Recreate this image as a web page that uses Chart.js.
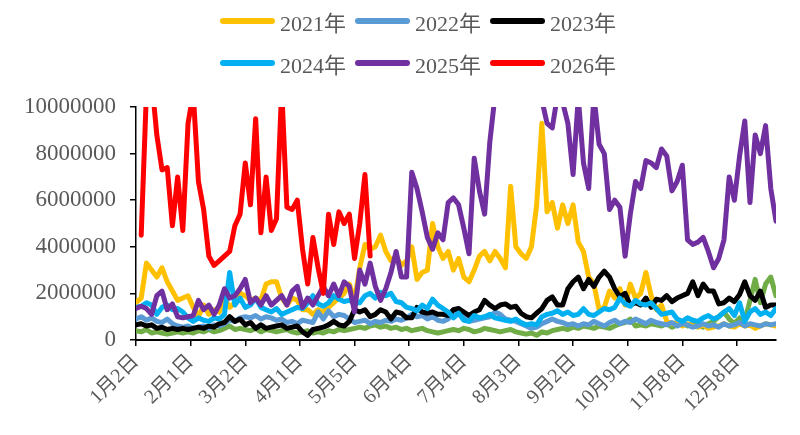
<!DOCTYPE html>
<html>
<head>
<meta charset="utf-8">
<script src="https://cdn.jsdelivr.net/npm/chart.js@4/dist/chart.umd.min.js"></script>
<style>
  html, body { margin: 0; padding: 0; background: #fff; }
  #wrap { position: relative; width: 800px; height: 435px; }
  #legend { position: absolute; left: 220px; top: 0px; width: 420px; display: flex; flex-wrap: wrap;
    font-family: 'Liberation Serif', 'Noto Sans CJK SC', serif; font-size: 22px; color: #595959; }
  .item { width: 135px; height: 42px; display: flex; align-items: center; }
  .sw { width: 55px; height: 6px; border-radius: 3px; margin-right: 5px; }
</style>
</head>
<body>
<div id="wrap">
  <canvas id="c" width="800" height="435"></canvas>
  <div id="legend"></div>
</div>
<script>
// 每个点 = 2 个交易日，单位：百万
const UNIT = 1e6;
const tickLabels = ['1月2日', '2月1日', '3月2日', '4月1日', '5月5日', '6月4日', '7月4日', '8月3日', '9月2日', '10月9日', '11月8日', '12月8日'];

const y2021 = [1.6, 1.8, 3.3, 3.0, 2.7, 3.1, 2.5, 2.1, 1.7, 1.8, 1.9, 1.4, 1.0, 1.5, 1.1, 1.3, 1.2, 1.8, 1.4, 1.6, 2.0,
  1.9, 1.7, 1.8, 1.7, 2.4, 2.5, 2.5, 1.8, 1.5, 1.8, 1.7, 1.3, 1.3, 1.1, 1.3, 1.2, 1.4, 1.6, 1.8, 2.0,
  2.4, 1.7, 3.1, 4.1, 3.9, 4.0, 4.5, 3.8, 3.4, 3.6, 3.2, 3.4, 4.0, 2.6, 2.9, 3.0, 5.0, 4.0, 3.5, 3.8,
  3.0, 3.5, 2.7, 2.5, 3.0, 3.6, 3.8, 3.4, 3.8, 3.5, 3.1, 6.6, 4.0, 3.7, 3.5, 4.0, 5.8, 9.3, 5.5,
  5.9, 4.8, 5.8, 5.0, 5.8, 4.2, 3.8, 2.7, 2.4, 1.3, 1.4, 2.1, 1.8, 2.2, 1.5, 2.4, 1.8, 2.0, 2.9, 1.9, 1.3,
  1.5, 0.8, 0.7, 0.75, 0.6, 0.7, 0.6, 0.55, 0.65, 0.5, 0.55, 0.6, 0.7, 0.6, 0.55, 0.7, 0.6, 0.65, 0.5, 0.6, 0.7, 0.65, 0.6];

const y2022 = [0.9, 1.0, 0.85, 0.95, 0.8, 0.75, 0.9, 0.7, 0.6, 0.55, 0.6, 0.5, 0.55, 0.6, 0.5, 0.65, 0.6, 0.7, 0.85, 0.8, 0.95,
  1.0, 0.95, 1.05, 0.9, 1.0, 0.95, 0.85, 0.9, 0.75, 0.8, 0.7, 0.85, 0.8, 0.75, 1.2, 0.9, 1.25, 1.0, 1.1, 1.05,
  0.9, 0.75, 0.8, 0.85, 0.7, 0.8, 0.75, 0.85, 0.8, 0.9, 0.85, 0.95, 1.1, 1.0, 1.05, 0.9, 1.0, 0.85, 0.8, 0.9,
  1.2, 1.35, 1.0, 0.8, 0.85, 0.9, 0.95, 1.0, 1.2, 1.1, 0.9, 0.85, 0.8, 0.7, 0.6, 0.5, 0.55, 0.7, 0.8, 0.9,
  0.8, 0.75, 0.65, 0.7, 0.6, 0.7, 0.65, 0.8, 0.7, 0.6, 0.75, 0.85, 0.7, 0.8, 0.75, 0.9, 0.8, 0.7, 0.85, 0.75,
  0.7, 0.65, 0.75, 0.6, 0.7, 0.65, 0.55, 0.6, 0.7, 0.6, 0.65, 0.55, 0.7, 0.6, 0.65, 0.75, 0.6, 0.7, 0.65, 0.6, 0.7, 0.65, 0.7];

const y2023 = [0.65, 0.7, 0.6, 0.65, 0.5, 0.55, 0.45, 0.5, 0.45, 0.5, 0.45, 0.5, 0.55, 0.5, 0.6, 0.55, 0.7, 0.75, 1.0, 0.8, 0.9,
  0.65, 0.75, 0.5, 0.65, 0.5, 0.55, 0.6, 0.65, 0.5, 0.55, 0.6, 0.35, 0.2, 0.45, 0.5, 0.55, 0.65, 0.8, 0.65, 0.6,
  0.8, 1.3, 1.2, 1.3, 1.0, 1.1, 1.3, 1.2, 0.9, 1.2, 1.15, 0.95, 0.95, 1.4, 1.2, 1.15, 1.2, 1.1, 1.1, 1.05,
  1.3, 1.35, 1.2, 1.05, 1.2, 1.3, 1.7, 1.5, 1.35, 1.5, 1.55, 1.4, 1.45, 1.15, 1.0, 0.95, 1.15, 1.35, 1.7, 1.85,
  1.5, 1.5, 2.2, 2.5, 2.7, 2.2, 2.6, 2.3, 2.7, 2.95, 2.7, 2.2, 1.85, 2.0, 1.5, 1.6, 1.5, 1.8, 1.4, 1.75,
  1.7, 1.9, 1.65, 1.8, 1.9, 2.0, 2.5, 1.9, 2.4, 2.1, 2.1, 1.55, 1.6, 1.8, 1.65, 1.95, 2.5, 1.9, 1.7, 2.1, 1.4, 1.5, 1.5];

const y2024 = [1.4, 1.45, 1.6, 1.5, 1.1, 1.4, 1.5, 1.3, 1.35, 1.2, 0.95, 0.8, 0.95, 0.85, 0.8, 0.95, 0.9, 1.1, 2.9, 1.5, 1.8,
  1.4, 1.5, 1.8, 1.4, 1.3, 1.2, 1.35, 1.1, 1.2, 1.3, 1.4, 1.35, 1.6, 1.9, 1.55, 1.45, 1.6, 1.9, 1.75, 1.65,
  1.7, 1.6, 1.6, 1.9, 2.0, 1.8, 2.05, 1.9, 2.0, 1.65, 1.6, 1.4, 1.35, 1.25, 1.5, 1.35, 1.75, 1.5, 1.35, 1.2,
  0.95, 1.15, 0.85, 0.8, 1.05, 0.95, 1.0, 1.1, 0.95, 0.9, 0.85, 0.8, 0.9, 0.75, 0.65, 0.7, 0.65, 1.0, 1.1, 1.15,
  1.25, 1.1, 1.2, 1.05, 1.1, 1.35, 1.1, 1.05, 1.2, 1.35, 1.3, 1.4, 1.8, 1.55, 1.45, 1.7, 1.55, 1.5, 1.6, 1.35,
  1.1, 1.15, 1.2, 0.9, 0.8, 0.95, 0.85, 0.8, 0.95, 1.05, 0.9, 1.0, 1.2, 1.35, 1.05, 1.6, 0.8, 1.2, 1.35, 1.1, 1.2, 1.05, 1.35];

const y2025 = [1.35, 1.45, 1.35, 1.1, 1.9, 2.1, 1.3, 1.55, 1.0, 0.95, 1.0, 1.05, 1.7, 1.3, 1.5, 1.1, 1.5, 2.2, 1.8, 1.9, 2.2,
  2.6, 1.6, 1.8, 1.5, 1.9, 1.5, 1.7, 1.9, 1.5, 2.1, 2.3, 1.4, 1.8, 1.5, 1.9, 2.3, 1.9, 2.4, 1.9, 2.5,
  2.3, 1.2, 3.0, 2.4, 3.3, 2.3, 1.7, 2.2, 2.9, 3.8, 2.7, 2.7, 7.2, 6.5, 5.5, 4.4, 3.9, 4.6, 4.3, 5.9,
  6.1, 5.8, 4.8, 3.7, 7.8, 6.4, 5.4, 8.5, 10.5, 11.5, 12.0, 12.5, 12.0, 12.5, 12.0, 11.5, 11.0, 10.3, 9.3,
  9.1, 10.5, 10.2, 9.3, 7.1, 10.4, 7.6, 6.5, 10.5, 8.4, 8.0, 5.6, 6.0, 5.7, 3.6, 5.4, 6.8, 6.5, 7.7, 7.6, 7.4,
  8.2, 7.9, 6.4, 6.8, 7.5, 4.3, 4.1, 4.2, 4.4, 3.8, 3.1, 3.5, 4.3, 7.0, 6.0, 7.9, 9.4, 5.9, 8.8, 8.0, 9.2, 6.5, 5.1];

const y2026 = [null, 4.5, 10.6, 11.2, 8.8, 7.3, 7.4, 4.9, 7.0, 4.7, 9.3, 10.6, 6.8, 5.6, 3.6, 3.2, 3.4, 3.6, 3.8, 4.9, 5.4,
  7.6, 5.8, 9.5, 4.6, 7.0, 4.7, 5.2, 10.8, 5.7, 5.6, 6.0, 3.9, 2.4, 4.4, 3.1, 2.0, 5.4, 4.1, 5.5, 5.0,
  5.4, 3.5, 5.0, 7.1, 3.6];

// 图例中没有的绿色序列
const yOther = [0.4, 0.35, 0.45, 0.3, 0.35, 0.3, 0.25, 0.3, 0.35, 0.3, 0.35, 0.3, 0.4, 0.35, 0.45, 0.35, 0.4, 0.5, 0.6, 0.45, 0.5,
  0.45, 0.4, 0.5, 0.35, 0.45, 0.4, 0.35, 0.4, 0.45, 0.35, 0.3, 0.35, 0.4, 0.3, 0.35, 0.3, 0.4, 0.35, 0.45, 0.4,
  0.45, 0.5, 0.55, 0.5, 0.6, 0.65, 0.55, 0.6, 0.5, 0.55, 0.45, 0.5, 0.4, 0.45, 0.5, 0.4, 0.35, 0.3, 0.35, 0.4,
  0.45, 0.4, 0.5, 0.45, 0.35, 0.4, 0.5, 0.45, 0.4, 0.35, 0.4, 0.45, 0.35, 0.3, 0.25, 0.3, 0.2, 0.35, 0.3, 0.4,
  0.45, 0.5, 0.45, 0.55, 0.5, 0.6, 0.55, 0.5, 0.6, 0.55, 0.5, 0.6, 0.7, 0.75, 0.9, 0.6, 0.65, 0.6, 0.7, 0.65,
  0.6, 0.7, 0.55, 0.65, 0.75, 0.6, 0.7, 0.65, 0.55, 0.7, 0.8, 1.0, 1.2, 0.9, 0.7, 0.95, 0.8, 1.7, 2.6, 1.6, 2.4, 2.7, 1.9];

// order 越小画在越上层
const series = [
  { label: '2021年', data: y2021, color: '#FFC000', order: 6, legend: true },
  { label: '2022年', data: y2022, color: '#5B9BD5', order: 5, legend: true },
  { label: '2023年', data: y2023, color: '#000000', order: 4, legend: true },
  { label: '2024年', data: y2024, color: '#00B0F0', order: 3, legend: true },
  { label: '2025年', data: y2025, color: '#7030A0', order: 2, legend: true },
  { label: '2026年', data: y2026, color: '#FF0000', order: 1, legend: true },
  { label: '其他', data: yOther, color: '#70AD47', order: 7, legend: false },
];

const FONT = "'Liberation Serif', 'Noto Sans CJK SC', serif";
const TXT = '#595959';

// Legend
const legend = document.getElementById('legend');
series.filter(s => s.legend).forEach(s => {
  const it = document.createElement('div');
  it.className = 'item';
  it.innerHTML = `<div class="sw" style="background:${s.color}"></div><span>${s.label}</span>`;
  legend.appendChild(it);
});

new Chart(document.getElementById('c'), {
  type: 'line',
  data: {
    datasets: series.map(s => ({
      label: s.label,
      data: s.data.map((v, i) => ({ x: i, y: v === null ? null : v * UNIT })),
      borderColor: s.color,
      backgroundColor: s.color,
      order: s.order,
      clip: 0,
    })),
  },
  options: {
    responsive: false,
    animation: false,
    layout: { padding: { top: 107, right: 24, left: 0, bottom: 0 } },
    plugins: { legend: { display: false }, tooltip: { enabled: false } },
    elements: {
      point: { radius: 0 },
      line: { tension: 0, borderWidth: 5, borderJoinStyle: 'round', borderCapStyle: 'round' },
    },
    scales: {
      x: {
        type: 'linear', min: 0, max: 123,
        afterBuildTicks: s => { s.ticks = tickLabels.map((_, k) => ({ value: k * 10.5 })); },
        afterFit: s => { s.height = 95; },
        ticks: { autoSkip: false, minRotation: 45, maxRotation: 45, padding: 4, color: TXT, font: { family: FONT, size: 20 },
          callback: (v, k) => tickLabels[k] },
        grid: { drawOnChartArea: false, color: '#000', tickLength: 6, lineWidth: 1.5 },
        border: { color: '#000', width: 2 },
      },
      y: {
        min: 0, max: 10 * UNIT,
        afterFit: s => { s.width = 136; },
        ticks: { stepSize: 2 * UNIT, padding: 14, color: TXT, font: { family: FONT, size: 23 }, callback: v => String(v) },
        grid: { drawOnChartArea: false, color: '#000', tickLength: 6, lineWidth: 1.5 },
        border: { color: '#000', width: 1.5 },
      },
    },
  },
});
</script>
</body>
</html>
